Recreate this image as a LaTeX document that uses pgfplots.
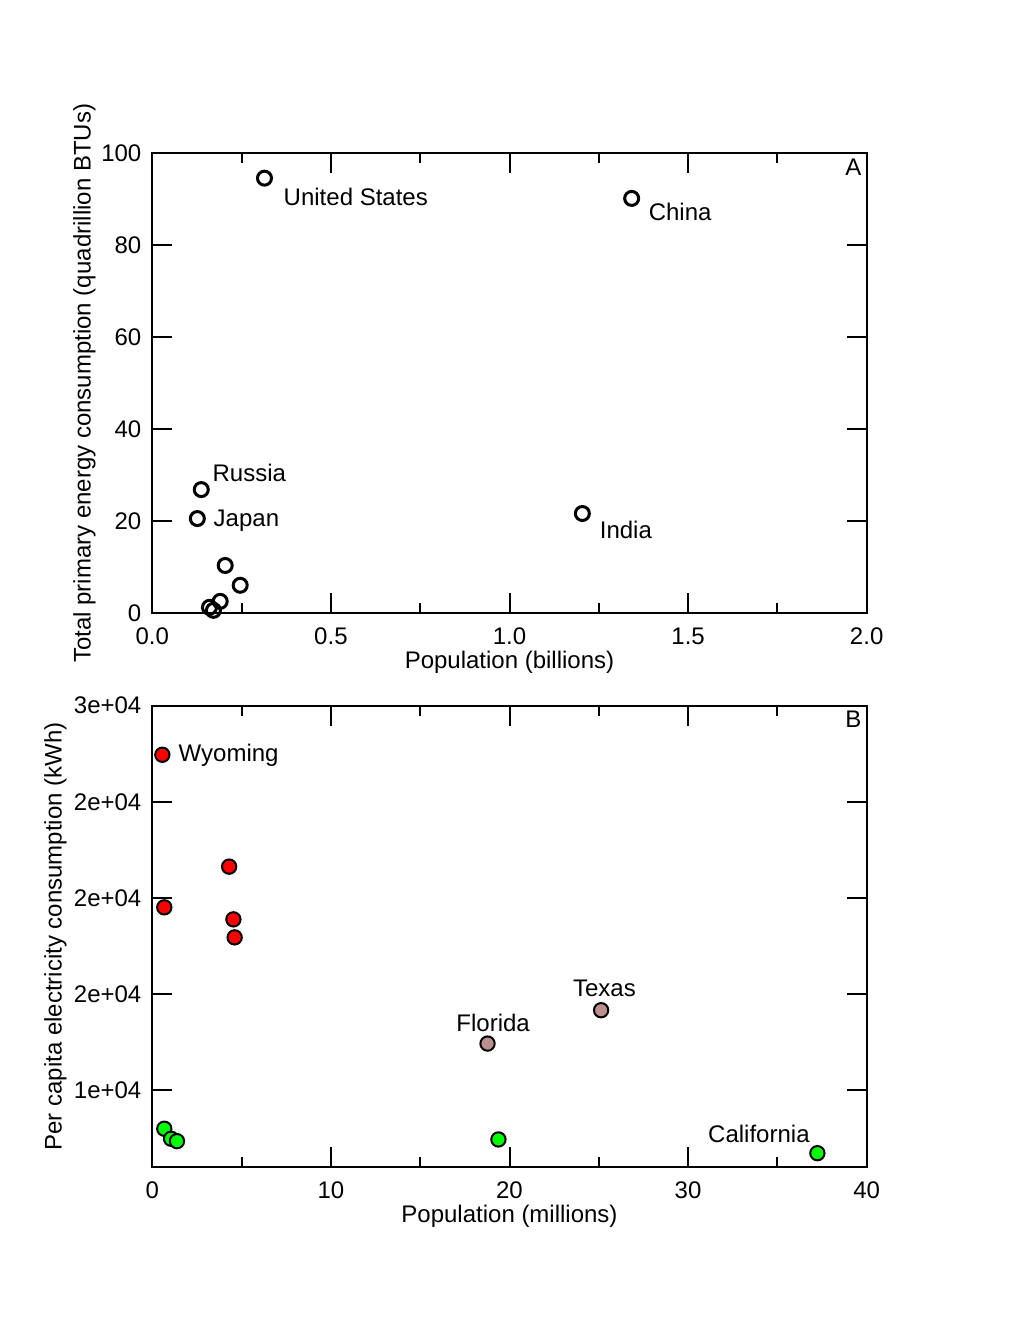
\documentclass[border=0pt]{standalone}
\usepackage{fontspec}
\setmainfont{Liberation Sans}
\usepackage{pgfplots}
\pgfplotsset{compat=1.18}

\definecolor{ptred}{RGB}{255,0,0}
\definecolor{ptgreen}{RGB}{0,255,0}
\definecolor{ptbrown}{RGB}{188,143,143}

\pgfplotsset{
  panel/.style={
    scale only axis,
    width=428.6pt,
    axis line style={line width=1.2pt},
    every tick/.style={black, line width=1.2pt},
    major tick length=12pt,
    minor tick length=6pt,
    tick align=inside,
    xticklabel style={yshift=-3.6pt},
    yticklabel style={xshift=-1.6pt},
    clip=false,
  },
}
\tikzset{txt/.style={anchor=base west, inner sep=0pt}}

\begin{document}
\fontsize{14.4}{17}\selectfont
\begin{tikzpicture}[font=\fontsize{14.4}{17}\selectfont]
\path[use as bounding box] (0,0) rectangle (612pt,792pt);

% A: countries
\begin{axis}[panel,
  at={(91.4pt,424pt)}, anchor=south west,
  height=276pt,
  xmin=0, xmax=2, ymin=0, ymax=100,
  xtick={0,0.5,1,1.5,2},
  xticklabels={0.0,0.5,1.0,1.5,2.0},
  minor xtick={0.25,0.75,1.25,1.75},
  ytick={0,20,40,60,80,100},
  yticklabels={0,20,40,60,80,100},
  xlabel={Population (billions)},
  ylabel={Total primary energy consumption (quadrillion BTUs)},
  xlabel style={at={(axis description cs:0.5,-0.1196)}, anchor=base},
  ylabel style={at={(axis description cs:-0.0865,0.5)}, anchor=base},
]
\addplot[only marks, mark=o, mark size=4.2pt, mark options={draw=black, line width=1.8pt}]
  coordinates {
  (0.314,94.6) (1.342,90.2) (1.204,21.7) (0.137,26.9) (0.126,20.6)
  (0.204,10.4) (0.246,6.1) (0.190,2.6) (0.160,1.3) (0.171,0.65)
  };
\node[txt] at (axis cs:0.367,88.6) {United States};
\node[txt] at (axis cs:1.389,85.4) {China};
\node[txt] at (axis cs:1.252,16.2) {India};
\node[txt] at (axis cs:0.168,28.6) {Russia};
\node[txt] at (axis cs:0.171,18.9) {Japan};
\node[anchor=north east, inner sep=3pt] at (rel axis cs:1,1) {A};
\end{axis}

% B: states
\begin{axis}[panel,
  at={(91.4pt,91.6pt)}, anchor=south west,
  height=277pt,
  xmin=0, xmax=40, ymin=6000, ymax=30000,
  xtick={0,10,20,30,40},
  xticklabels={0,10,20,30,40},
  minor xtick={5,15,25,35},
  ytick={10000,15000,20000,25000,30000},
  yticklabels={1e+04,2e+04,2e+04,2e+04,3e+04},
  scaled y ticks=false,
  xlabel={Population (millions)},
  ylabel={Per capita electricity consumption (kWh)},
  xlabel style={at={(axis description cs:0.5,-0.119)}, anchor=base},
  ylabel style={at={(axis description cs:-0.127,0.5)}, anchor=base},
]
\addplot[only marks, mark=*, mark size=4.3pt, mark options={draw=black, fill=ptred, line width=1.2pt}]
  coordinates {
  (0.56,27448) (0.67,19516) (4.30,21631) (4.54,18891) (4.61,17954)
  };
\addplot[only marks, mark=*, mark size=4.3pt, mark options={draw=black, fill=ptbrown, line width=1.2pt}]
  coordinates {
  (18.77,12434) (25.13,14168)
  };
\addplot[only marks, mark=*, mark size=4.3pt, mark options={draw=black, fill=ptgreen, line width=1.2pt}]
  coordinates {
  (0.67,8006) (1.05,7485) (1.38,7361) (19.38,7449) (37.24,6736)
  };
\node[txt] at (axis cs:1.46,27099) {Wyoming};
\node[txt] at (axis cs:17.01,13074) {Florida};
\node[txt] at (axis cs:23.54,14860) {Texas};
\node[txt] at (axis cs:31.11,7309) {California};
\node[anchor=north east, inner sep=3pt] at (rel axis cs:1,1) {B};
\end{axis}
\end{tikzpicture}
\end{document}
